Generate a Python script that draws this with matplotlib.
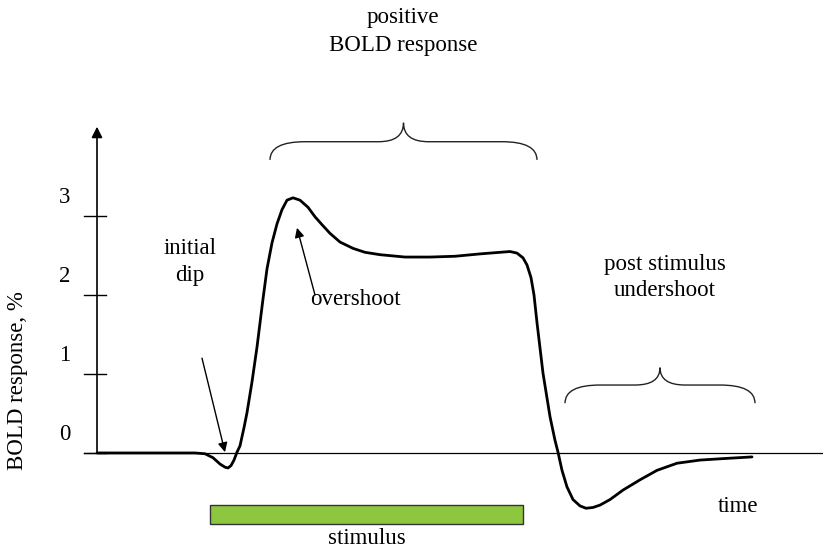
import matplotlib.pyplot as plt
from matplotlib.path import Path
from matplotlib.patches import PathPatch, Rectangle

plt.rcParams['font.family'] = ['Liberation Serif', 'DejaVu Serif']

# ── Data (time in arbitrary units, BOLD response in %) ──
time = [0, 5.3, 9.8, 10.8, 11.6, 12.3, 12.8, 13.1, 13.4, 13.7, 14.0, 14.3,
        14.7, 15.0, 15.5, 16.0, 16.6, 17.0, 17.5, 18.0, 18.5, 19.0, 19.6,
        20.3, 21.1, 21.8, 22.5, 23.3, 24.3, 25.6, 26.8, 28.3, 30.8, 33.3,
        35.8, 38.3, 40.3, 41.3, 42.0, 42.6, 43.0, 43.4, 43.7, 44.0, 44.6,
        45.3, 45.8, 46.1, 46.5, 47.0, 47.6, 48.3, 48.9, 49.6, 50.3, 51.3,
        52.6, 54.3, 56.0, 58.0, 60.3, 62.8, 65.5]
bold = [0, 0, 0, -0.01, -0.06, -0.14, -0.18, -0.19, -0.16, -0.09, 0.01, 0.09,
        0.32, 0.51, 0.90, 1.34, 1.95, 2.33, 2.66, 2.90, 3.08, 3.20, 3.23,
        3.20, 3.11, 2.99, 2.89, 2.78, 2.67, 2.59, 2.54, 2.51, 2.48, 2.48,
        2.49, 2.52, 2.54, 2.55, 2.53, 2.47, 2.38, 2.22, 2.00, 1.65, 1.01,
        0.46, 0.16, 0.01, -0.22, -0.43, -0.59, -0.67, -0.70, -0.69, -0.66,
        -0.59, -0.47, -0.34, -0.22, -0.13, -0.09, -0.07, -0.05]

y_ticks = [0, 1, 2, 3]
stim_start, stim_end = 11.3, 42.6

# brace spans: (x start, x end, end level, middle level, tip level)
braces = [(17.3, 44.0, 3.71, 3.94, 4.18),
          (46.8, 65.8, 0.63, 0.86, 1.08)]

fig = plt.figure(figsize=(8.23, 5.51), dpi=100)
ax = fig.add_axes([0, 0, 1, 1])
ax.set_xlim(-9.7, 72.6)
ax.set_ylim(-1.241, 5.734)
ax.axis('off')

# axes drawn by hand
ax.plot([-1.3, 72.6], [0, 0], color='black', lw=0.9)
ax.annotate('', xy=(0, 4.13), xytext=(0, 0),
            arrowprops=dict(arrowstyle='-|>', color='black', lw=1.2,
                            mutation_scale=16, shrinkA=0, shrinkB=0))
for v in y_ticks:
    ax.plot([-1.3, 0.9], [v, v], color='black', lw=1.0)
    ax.text(-3.2, v + 0.24, str(v), ha='center', va='center', fontsize=16.5)

ax.text(-7.9, 0.92, 'BOLD response, %', rotation=90, ha='center',
        va='center', fontsize=16.5)

# response curve
ax.plot(time, bold, color='black', lw=2.0, solid_joinstyle='round',
        solid_capstyle='round')

# stimulus bar
ax.add_patch(Rectangle((stim_start, -0.90), stim_end - stim_start, 0.24,
                       facecolor='#8dc63f', edgecolor='#333333', lw=1.0))
ax.text((stim_start + stim_end) / 2, -1.08, 'stimulus', ha='center',
        va='center', fontsize=16.5)


def brace(x0, x1, y0, y1, y2, r_end=3.5, r_mid=2.5):
    xm = (x0 + x1) / 2
    verts = [(x0, y0), (x0, y1), (x0 + r_end, y1),
             (xm - r_mid, y1), (xm, y1), (xm, y2),
             (xm, y1), (xm + r_mid, y1),
             (x1 - r_end, y1), (x1, y1), (x1, y0)]
    codes = [Path.MOVETO, Path.CURVE3, Path.CURVE3,
             Path.LINETO, Path.CURVE3, Path.CURVE3,
             Path.CURVE3, Path.CURVE3,
             Path.LINETO, Path.CURVE3, Path.CURVE3]
    ax.add_patch(PathPatch(Path(verts, codes), fill=False,
                           edgecolor='#222222', lw=1.0))


for b in braces:
    brace(*b)

# labels and arrows
ax.text(30.6, 5.51, 'positive', ha='center', va='center', fontsize=16.5)
ax.text(30.6, 5.16, 'BOLD response', ha='center', va='center', fontsize=16.5)
ax.text(9.3, 2.59, 'initial', ha='center', va='center', fontsize=16.5)
ax.text(9.3, 2.25, 'dip', ha='center', va='center', fontsize=16.5)
ax.text(25.8, 1.94, 'overshoot', ha='center', va='center', fontsize=16.5)
ax.text(56.8, 2.38, 'post stimulus', ha='center', va='center', fontsize=16.5)
ax.text(56.8, 2.06, 'undershoot', ha='center', va='center', fontsize=16.5)
ax.text(64.1, -0.68, 'time', ha='center', va='center', fontsize=16.5)

arrow_kw = dict(arrowstyle='-|>', color='black', lw=1.0,
                mutation_scale=14, shrinkA=0, shrinkB=0)
ax.annotate('', xy=(12.8, 0.01), xytext=(10.5, 1.20), arrowprops=arrow_kw)
ax.annotate('', xy=(20.0, 2.85), xytext=(21.8, 2.0), arrowprops=arrow_kw)

fig.savefig('out.png', dpi=100)
